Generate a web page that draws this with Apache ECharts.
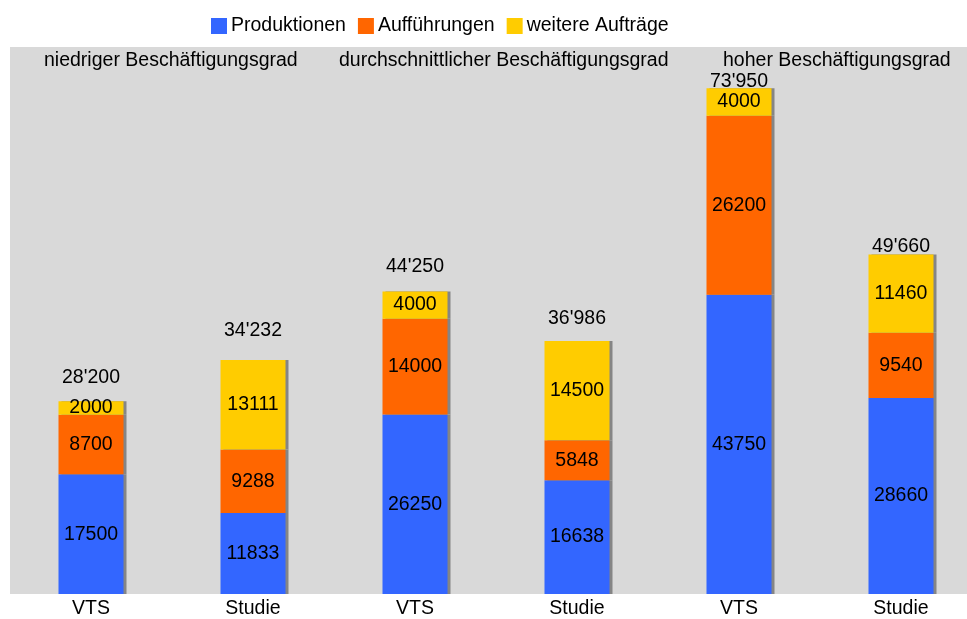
<!DOCTYPE html>
<html>
<head>
<meta charset="utf-8">
<title>Beschäftigungsgrad</title>
<script src="https://cdn.jsdelivr.net/npm/echarts@6/dist/echarts.min.js"></script>
<style>
    html, body { margin: 0; padding: 0; background: #fff; }
    #chart { width: 967px; height: 619px; }
</style>
</head>
<body>
<div id="chart"></div>
<script>
    // Kategorien und Werte
    var categories = ['VTS', 'Studie', 'VTS', 'Studie', 'VTS', 'Studie'];
    var produktionen = [17500, 11833, 26250, 16638, 43750, 28660];
    var auffuehrungen = [8700, 9288, 14000, 5848, 26200, 9540];
    var auftraege = [2000, 13111, 4000, 14500, 4000, 11460];
    var groupNames = ['niedriger Beschäftigungsgrad', 'durchschnittlicher Beschäftigungsgrad', 'hoher Beschäftigungsgrad'];

    // Abstand der Summen über den Balken (px)
    var totalGap = [14, 19, 15, 12, -3, -2];
    var groupLeft = [44, 339, 723];

    var font = 'Liberation Sans, Arial, sans-serif';
    var fs = 19.5;

    var totals = produktionen.map(function (v, i) {
        return v + auffuehrungen[i] + auftraege[i];
    });

    function fmt(n) {
        return String(n).replace(/\B(?=(\d{3})+(?!\d))/g, "'");
    }

    function barSeries(name, data, color) {
        return {
            name: name,
            type: 'bar',
            stack: 'a',
            barWidth: 65,
            data: data,
            itemStyle: {
                color: color,
                shadowColor: '#858585',
                shadowOffsetX: 3,
                shadowOffsetY: 0,
                shadowBlur: 0
            },
            label: {
                show: true,
                position: 'inside',
                color: '#000',
                fontFamily: font,
                fontSize: fs
            }
        };
    }

    var chart = echarts.init(document.getElementById('chart'));
    var option = {
        animation: false,
        textStyle: { fontFamily: font },
        legend: {
            data: ['Produktionen', 'Aufführungen', 'weitere Aufträge'],
            left: 206,
            top: 11,
            icon: 'rect',
            itemWidth: 16,
            itemHeight: 16,
            itemGap: 12,
            textStyle: { color: '#000', fontSize: fs, fontFamily: font, padding: [0, 0, 0, -1] }
        },
        grid: {
            show: true,
            left: 10,
            top: 47,
            width: 972,
            height: 547,
            containLabel: false,
            outerBoundsMode: 'none',
            backgroundColor: '#d9d9d9',
            borderWidth: 0
        },
        xAxis: {
            type: 'category',
            data: categories,
            axisLine: { show: false },
            axisTick: { show: false },
            axisLabel: { color: '#000', fontSize: fs, fontFamily: font, margin: 5 }
        },
        yAxis: {
            type: 'value',
            min: 0,
            max: 80000,
            show: false,
            splitLine: { show: false }
        },
        graphic: groupNames.map(function (t, i) {
            return {
                type: 'text',
                left: groupLeft[i],
                top: 51,
                style: { text: t, fill: '#000', font: fs + 'px ' + font }
            };
        }),
        series: [
            barSeries('Produktionen', produktionen, '#3366ff'),
            barSeries('Aufführungen', auffuehrungen, '#ff6600'),
            barSeries('weitere Aufträge', auftraege, '#ffcc00'),
            {
                name: 'Summe',
                type: 'bar',
                stack: 'a',
                barWidth: 65,
                itemStyle: { color: 'transparent' },
                data: totals.map(function (t, i) {
                    return {
                        value: 0,
                        label: {
                            show: true,
                            position: 'top',
                            distance: totalGap[i],
                            formatter: fmt(t),
                            color: '#000',
                            fontFamily: font,
                            fontSize: fs
                        }
                    };
                })
            }
        ]
    };
    chart.setOption(option);
</script>
</body>
</html>
